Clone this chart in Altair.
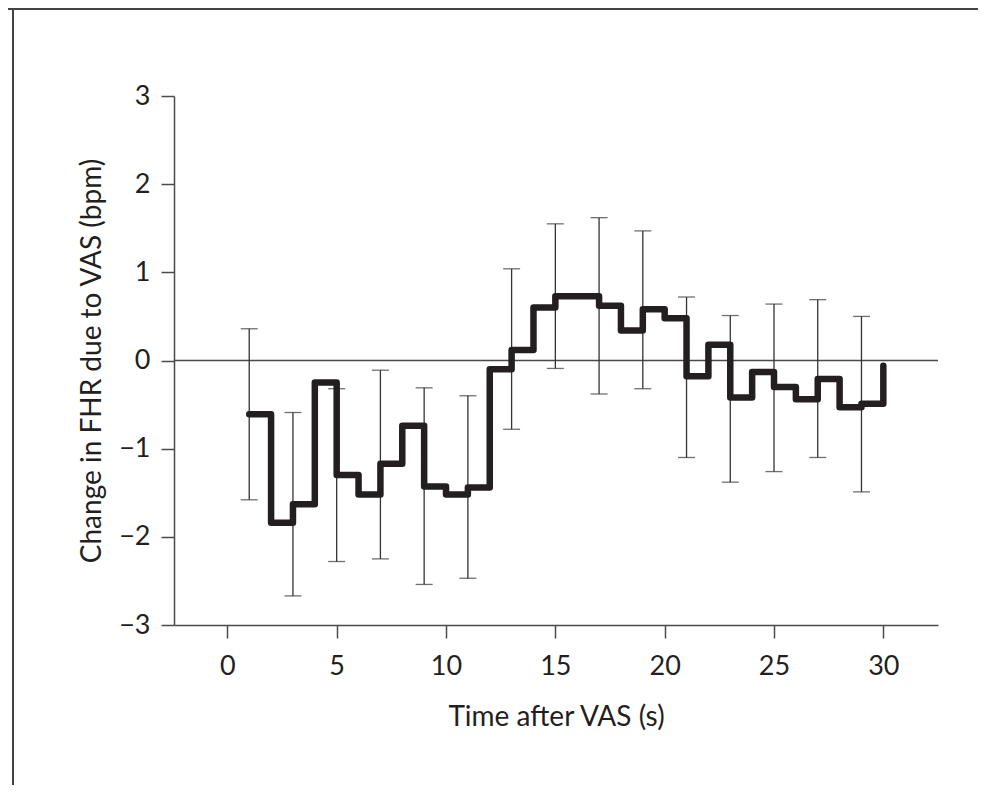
import altair as alt
import pandas as pd

# Step series: value at each second (holds until the next second)
time_s = list(range(1, 31))
fhr_change = [-0.61, -1.84, -1.63, -0.25, -1.30, -1.52, -1.17, -0.74, -1.43, -1.52,
              -1.44, -0.10, 0.12, 0.60, 0.73, 0.73, 0.62, 0.34, 0.58, 0.48,
              -0.18, 0.18, -0.42, -0.13, -0.30, -0.44, -0.21, -0.53, -0.49, -0.06]

# Error bars at odd seconds
err_time = [1, 3, 5, 7, 9, 11, 13, 15, 17, 19, 21, 23, 25, 27, 29]
err_upper = [0.36, -0.59, -0.32, -0.11, -0.31, -0.40, 1.04, 1.55, 1.62, 1.47,
             0.72, 0.51, 0.64, 0.69, 0.50]
err_lower = [-1.58, -2.67, -2.28, -2.25, -2.54, -2.47, -0.78, -0.09, -0.38, -0.32,
             -1.10, -1.38, -1.26, -1.10, -1.49]

x_ticks = [0, 5, 10, 15, 20, 25, 30]
y_ticks = [-3, -2, -1, 0, 1, 2, 3]

W, H = 764, 529
FONT = "Lato"
INK = "#231f20"
GREY = "#4a4a4a"

line_df = pd.DataFrame({"t": time_s, "v": fhr_change})
err_df = pd.DataFrame({"t": err_time, "hi": err_upper, "lo": err_lower})

x_scale = alt.Scale(domain=[-2.44, 32.5], nice=False, zero=False)
y_scale = alt.Scale(domain=[-3, 3], nice=False)

x_axis = alt.Axis(values=x_ticks, title="Time after VAS (s)", titlePadding=24,
                  labelPadding=15, format="d")
y_axis = alt.Axis(values=y_ticks, title="Change in FHR due to VAS (bpm)",
                  titlePadding=12, labelPadding=11, format="d")

zero = alt.Chart(alt.Data(values=[{"z": 0}])).mark_rule(
    color=GREY, strokeWidth=1.4
).encode(y=alt.Y("z:Q", scale=y_scale), x=alt.value(0), x2=alt.value(W))

bars = alt.Chart(err_df).mark_rule(color="#333333", strokeWidth=1.3).encode(
    x=alt.X("t:Q", scale=x_scale, axis=x_axis),
    y=alt.Y("lo:Q", scale=y_scale, axis=y_axis),
    y2="hi:Q",
)
cap_hi = alt.Chart(err_df).mark_tick(color="#333333", thickness=1.3, size=17,
                                     orient="horizontal").encode(
    x=alt.X("t:Q", scale=x_scale), y=alt.Y("hi:Q", scale=y_scale))
cap_lo = alt.Chart(err_df).mark_tick(color="#333333", thickness=1.3, size=17,
                                     orient="horizontal").encode(
    x=alt.X("t:Q", scale=x_scale), y=alt.Y("lo:Q", scale=y_scale))

step = alt.Chart(line_df).mark_line(
    interpolate="step-after", color=INK, strokeWidth=6.5,
    strokeCap="round", strokeJoin="round"
).encode(x=alt.X("t:Q", scale=x_scale), y=alt.Y("v:Q", scale=y_scale))

# Frame of the figure (top and left edges)
frame = alt.Data(values=[{"a": 1}])
frame_top = alt.Chart(frame).mark_rule(color="#444444", strokeWidth=2).encode(
    x=alt.value(-170), x2=alt.value(W + 60), y=alt.value(-87))
frame_left = alt.Chart(frame).mark_rule(color="#444444", strokeWidth=2).encode(
    x=alt.value(-161), y=alt.value(-88), y2=alt.value(H + 200))

chart = alt.layer(zero, bars, cap_hi, cap_lo, step, frame_top, frame_left).properties(
    width=W, height=H,
    autosize=alt.AutoSizeParams(type="none"),
    padding={"left": 166, "top": 88, "right": 40, "bottom": 160},
).configure_view(stroke=None).configure_axis(
    grid=False,
    domainColor=GREY, domainWidth=1.5,
    tickColor=GREY, tickWidth=1.5, tickSize=13,
    labelFont=FONT, labelFontSize=27, labelColor=INK,
    titleFont=FONT, titleFontSize=28, titleFontWeight="normal", titleColor=INK,
)

chart.save("out.html", embed_options={"renderer": "svg", "actions": False})
